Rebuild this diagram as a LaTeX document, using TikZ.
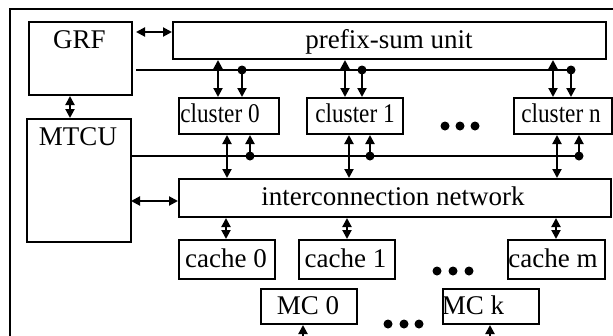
\documentclass[tikz,border=0pt]{standalone}
\usepackage{fontspec}
\setmainfont{Liberation Serif}
\usetikzlibrary{arrows.meta}
\begin{document}
\begin{tikzpicture}[x=1pt,y=-1pt,
  box/.style={draw, line width=2pt, inner sep=0pt, anchor=north west},
  lab/.style={font=\fontsize{27}{29}\selectfont, anchor=base, inner sep=0pt},
  tip/.style={Triangle[length=9pt,width=9pt]},
  arr/.style={line width=2pt, -{Triangle[length=9pt,width=9pt]}},
  dbl/.style={line width=2pt, {Triangle[length=9pt,width=9pt]}-{Triangle[length=9pt,width=9pt]}},
  bus/.style={line width=2pt},
  dot/.style={circle, fill, inner sep=0pt, minimum size=9pt},
  edot/.style={circle, fill, inner sep=0pt, minimum size=9pt}]
\useasboundingbox (0,0) rectangle (613,335);
\clip (0,0) rectangle (613,335);
% frame
\draw[line width=2.8pt] (10,400) -- (10,9) -- (700,9);
% boxes
\node[box, minimum width=103pt, minimum height=73pt] (grf) at (28,21) {};
\node[box, minimum width=104pt, minimum height=123pt] (mtcu) at (26,118) {};
\node[box, minimum width=433pt, minimum height=37pt] (pfx) at (172,21) {};
\node[box, minimum width=100pt, minimum height=36pt] (c0) at (178,97) {};
\node[box, minimum width=96pt, minimum height=36pt] (c1) at (306,97) {};
\node[box, minimum width=98pt, minimum height=36pt] (cn) at (513,97) {};
\node[box, minimum width=432pt, minimum height=38pt] (net) at (178,178) {};
\node[box, minimum width=96pt, minimum height=39pt] (k0) at (178,239) {};
\node[box, minimum width=96pt, minimum height=39pt] (k1) at (298,239) {};
\node[box, minimum width=97pt, minimum height=39pt] (km) at (507,239) {};
\node[box, minimum width=96pt, minimum height=35pt] (mc0) at (260,288) {};
\node[box, minimum width=96pt, minimum height=35pt] (mck) at (442,288) {};
% labels
\node[lab] (grf-t) at (79.5,48) {GRF};
\node[lab] (mtcu-t) at (78,145) {MTCU};
\node[lab] (pfx-t) at (389,48) {prefix-sum unit};
\node[lab] (c0-t) at (220,122) {\scalebox{0.86}[1]{cluster 0}};
\node[lab] (c1-t) at (355,122) {\scalebox{0.86}[1]{cluster 1}};
\node[lab] (cn-t) at (561,122) {\scalebox{0.86}[1]{cluster n}};
\node[lab] (net-t) at (393,205) {interconnection network};
\node[lab] (k0-t) at (226,267) {cache 0};
\node[lab] (k1-t) at (345.5,267) {cache 1};
\node[lab] (km-t) at (553,267) {cache m};
\node[lab] (mc0-t) at (308,314) {MC 0};
\node[lab] (mck-t) at (473,314) {MC k};
% GRF connections
\coordinate (g1) at (136,32);
\draw[dbl] (g1) -- (g1 -| pfx.west);
\draw[dbl] (70,0 |- grf.south) -- (70,0 |- mtcu.north);
% upper bus
\coordinate (ub) at (136,70);
\node[dot] (d0u) at (242,70) {};
\node[dot] (d1u) at (362,70) {};
\node[dot] (dnu) at (571,70) {};
\draw[bus] (ub) -- (dnu.center);
\draw[arr] (d0u.center) -- (d0u |- c0.north);
\draw[arr] (d1u.center) -- (d1u |- c1.north);
\draw[arr] (dnu.center) -- (dnu |- cn.north);
\draw[dbl] (218,0 |- pfx.south) -- (218,0 |- c0.north);
\draw[dbl] (345,0 |- pfx.south) -- (345,0 |- c1.north);
\draw[dbl] (553,0 |- pfx.south) -- (553,0 |- cn.north);
% lower bus
\node[dot] (d0l) at (250,156) {};
\node[dot] (d1l) at (370,156) {};
\node[dot] (dnl) at (579,156) {};
\draw[bus] (mtcu.east |- dnl) -- (dnl.center);
\draw[arr] (d0l.center) -- (d0l |- c0.south);
\draw[arr] (d1l.center) -- (d1l |- c1.south);
\draw[arr] (dnl.center) -- (dnl |- cn.south);
\draw[dbl] (227,0 |- c0.south) -- (227,0 |- net.north);
\draw[dbl] (349,0 |- c1.south) -- (349,0 |- net.north);
\draw[dbl] (557,0 |- cn.south) -- (557,0 |- net.north);
% MTCU - network
\coordinate (m1) at (131,201);
\draw[dbl] (m1) -- (m1 -| net.west);
% network - caches
\draw[dbl] (226,0 |- net.south) -- (226,0 |- k0.north);
\draw[dbl] (347,0 |- net.south) -- (347,0 |- k1.north);
\draw[dbl] (556,0 |- net.south) -- (556,0 |- km.north);
% memory controllers
\coordinate (b0) at (303,360);
\coordinate (bk) at (490,360);
\draw[arr] (b0) -- (b0 |- mc0.south);
\draw[arr] (bk) -- (bk |- mck.south);
% ellipses
\foreach \x in {445,460,475} \node[edot] at (\x,126) {};
\foreach \x in {437,453,469} \node[edot] at (\x,271) {};
\foreach \x in {388,404,419} \node[edot] at (\x,324) {};
\end{tikzpicture}
\end{document}
